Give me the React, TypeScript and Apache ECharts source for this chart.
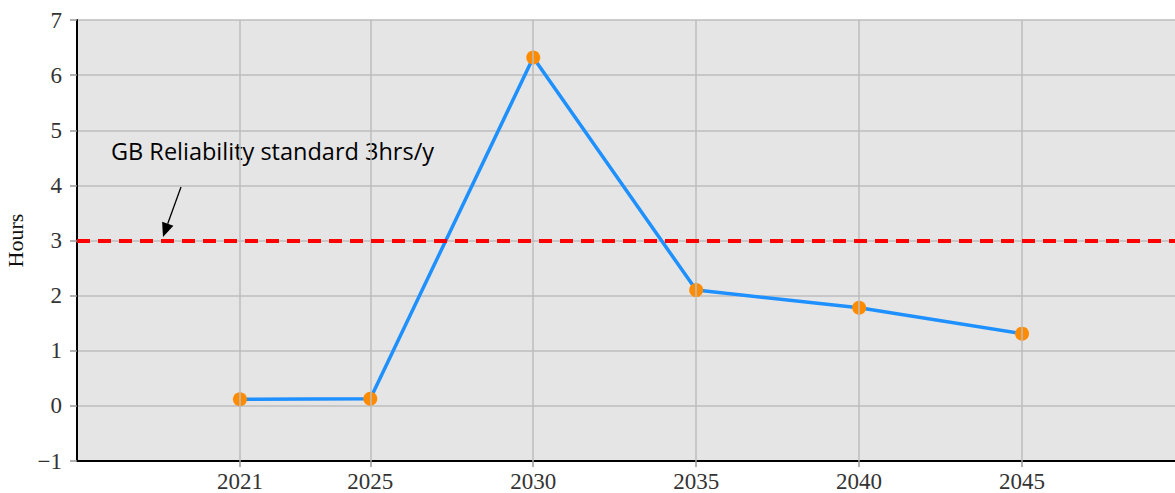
import React, { useEffect, useRef } from "react";
import * as echarts from "echarts";

const years = [2021, 2025, 2030, 2035, 2040, 2045];
const hours = [0.12, 0.13, 6.32, 2.1, 1.78, 1.31];
const standardHours = 3;
const annotationText = "GB Reliability standard 3hrs/y";
const yAxisName = "Hours";

export default function App() {
  const ref = useRef<HTMLDivElement>(null);
  useEffect(() => {
    if (!ref.current) return;
    const chart = echarts.init(ref.current, undefined, { renderer: "svg" });
    const serif = "'Liberation Serif', 'Times New Roman', serif";
    const gridColor = "#bcbcbc";
    chart.setOption({
      animation: false,
      backgroundColor: "#ffffff",
      grid: {
        left: 77,
        right: -10,
        top: 20,
        bottom: 32,
        show: true,
        backgroundColor: "#e5e5e5",
        borderWidth: 0,
        containLabel: false,
        outerBoundsMode: "none",
      },
      xAxis: {
        type: "value",
        min: 2016,
        max: 2050,
        axisLine: { show: true, onZero: false, lineStyle: { color: "#000", width: 2 } },
        axisTick: { show: true, length: 6, customValues: years, lineStyle: { color: "#999", width: 1.5 } },
        axisLabel: {
          customValues: years,
          fontFamily: serif,
          fontSize: 23,
          color: "#333",
          margin: 9,
          formatter: (v: number) => String(v),
        },
        splitLine: { show: false },
      },
      yAxis: {
        type: "value",
        min: -1,
        max: 7,
        interval: 1,
        name: yAxisName,
        nameLocation: "middle",
        nameRotate: 90,
        nameGap: 45,
        nameTextStyle: { fontFamily: serif, fontSize: 22, color: "#111" },
        axisLine: { show: true, lineStyle: { color: "#000", width: 2 } },
        axisTick: { show: true, length: 7, lineStyle: { color: "#999", width: 1.5 } },
        axisLabel: {
          fontFamily: serif,
          fontSize: 23,
          color: "#333",
          margin: 15,
          formatter: (v: number) => (v < 0 ? "\u2212" + Math.abs(v) : String(v)),
        },
        splitLine: { show: true, lineStyle: { color: gridColor, width: 1.5 } },
      },
      series: [
        {
          type: "line",
          name: "refs",
          data: [],
          silent: true,
          z: 1,
          markLine: {
            silent: true,
            symbol: ["none", "none"],
            label: { show: false },
            emphasis: { disabled: true },
            data: [
              ...years.map((y) => ({
                xAxis: y,
                lineStyle: { color: gridColor, width: 1.5, type: "solid" },
              })),
              {
                yAxis: standardHours,
                lineStyle: { color: "#ff0000", width: 4, type: [13, 8] },
              },
            ],
          },
        },
        {
          type: "line",
          name: "Hours",
          z: 3,
          data: years.map((y, i) => [y, hours[i]]),
          lineStyle: { color: "#1e90ff", width: 3.5 },
          itemStyle: { color: "#ff8c00" },
          symbol: "circle",
          symbolSize: 14,
          showSymbol: true,
        },
      ],
      graphic: [
        {
          type: "text",
          x: 111,
          y: 151,
          style: {
            text: annotationText,
            fontFamily: "'Open Sans', 'Noto Sans', sans-serif",
            fontSize: 23.5,
            fill: "#000",
            verticalAlign: "middle",
            align: "left",
          },
        },
        {
          type: "line",
          shape: { x1: 181, y1: 187, x2: 167.7, y2: 223.8 },
          style: { stroke: "#000", lineWidth: 1.3 },
        },
        {
          type: "polygon",
          shape: { points: [[163, 237], [173.4, 225.8], [162.1, 221.8]] },
          style: { fill: "#000" },
        },
      ],
    });
    return () => chart.dispose();
  }, []);
  return (
    <div
      ref={ref}
      style={{ position: "fixed", left: 0, top: 0, width: 1175, height: 493, overflow: "hidden" }}
    />
  );
}
